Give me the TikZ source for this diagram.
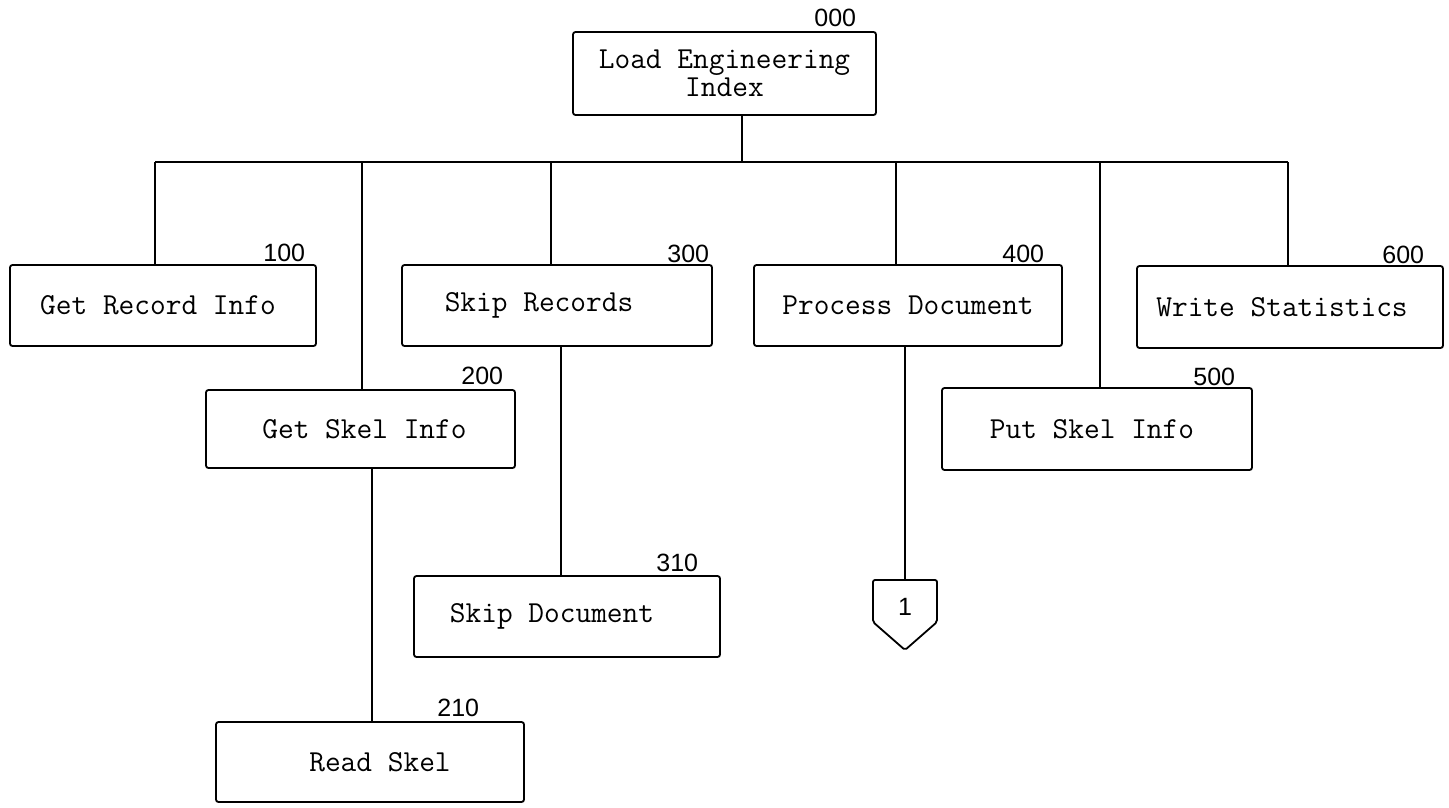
\documentclass[tikz,border=0pt]{standalone}
\usepackage{fontspec}
\newfontfamily\numfont{Liberation Sans}
\begin{document}
\begin{tikzpicture}[x=1pt,y=-1pt,
  line width=1.8pt,
  box/.style={draw, rounded corners=2.5pt, minimum width=306pt, minimum height=81pt,
    inner sep=0pt, align=center, font=\ttfamily\fontsize{30.5}{28}\selectfont},
  lbl/.style={anchor=east, inner sep=0pt, font=\numfont\fontsize{25}{25}\selectfont},
  wire/.style={draw, line width=1.8pt}]
\useasboundingbox (0,0) rectangle (1449,808);
\fill[white] (0,0) rectangle (1449,808);

% boxes
\node[box, minimum width=303pt, minimum height=83pt] (B000) at (724.5,73.5) {Load Engineering\\Index};
\node[box] (B100) at (163,305.5) {Get Record Info\hspace*{10pt}};
\node[box, minimum width=309pt, minimum height=78pt] (B200) at (360.5,429) {\hspace*{8pt}Get Skel Info};
\node[box, minimum width=310pt] (B300) at (557,305.5) {Skip Records\hspace*{36pt}};
\node[box] (B310) at (567,616.5) {Skip Document\hspace*{30pt}};
\node[box, minimum width=308pt] (B400) at (908,305.5) {Process Document};
\node[box, minimum width=310pt, minimum height=82pt] (B500) at (1097,429) {Put Skel Info\hspace*{10pt}};
\node[box, minimum height=82pt] (B600) at (1290,307) {Write Statistics\hspace*{16pt}};
\node[box, minimum width=308pt, minimum height=80pt] (B210) at (370,762) {\hspace*{20pt}Read Skel};

% labels
\node[lbl] (N000) at (857,18) {000};
\node[lbl] (N100) at (306,253) {100};
\node[lbl] (N200) at (504,376) {200};
\node[lbl] (N300) at (710,254) {300};
\node[lbl] (N310) at (699,563) {310};
\node[lbl] (N400) at (1045,254) {400};
\node[lbl] (N500) at (1236,377) {500};
\node[lbl] (N600) at (1425,255) {600};
\node[lbl] (N210) at (480,708) {210};

% off-page connector
\coordinate (C1top) at (905,580);
\draw[rounded corners=2pt] (C1top) -- ++(32,0) -- ++(0,42) -- ++(-32,28) -- ++(-32,-28) -- ++(0,-42) -- cycle;
\node[inner sep=0pt, font=\numfont\fontsize{25}{25}\selectfont] (C1) at (905,607) {1};

% bus
\coordinate (top) at (742,162);
\coordinate (b100) at (155,162);
\coordinate (b200) at (362,162);
\coordinate (b300) at (551,162);
\coordinate (b400) at (896,162);
\coordinate (b500) at (1100,162);
\coordinate (b600) at (1288,162);
\draw[wire] (top |- B000.south) -- (top);
\draw[wire] (b100) -- (b600);
\draw[wire] (b100) -- (b100 |- B100.north);
\draw[wire] (b200) -- (b200 |- B200.north);
\draw[wire] (b300) -- (b300 |- B300.north);
\draw[wire] (b400) -- (b400 |- B400.north);
\draw[wire] (b500) -- (b500 |- B500.north);
\draw[wire] (b600) -- (b600 |- B600.north);

% lower drops
\coordinate (d310) at (561,450);
\coordinate (d210) at (372,600);
\draw[wire] (d310 |- B300.south) -- (d310 |- B310.north);
\draw[wire] (d210 |- B200.south) -- (d210 |- B210.north);
\draw[wire] (C1top |- B400.south) -- (C1top);
\end{tikzpicture}
\end{document}
